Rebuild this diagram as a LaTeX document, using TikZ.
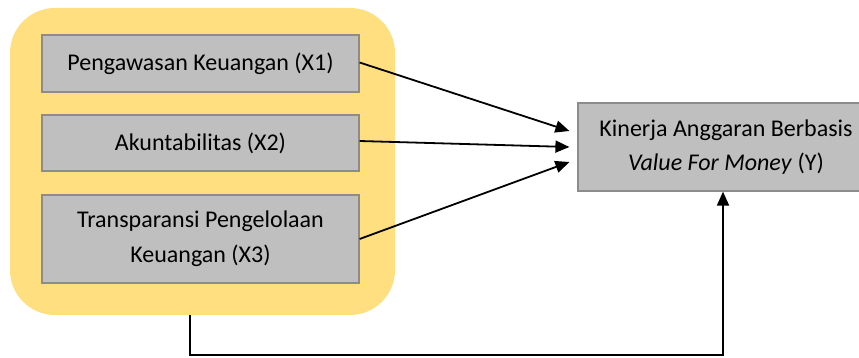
\documentclass[tikz,border=0pt]{standalone}
\usepackage{fontspec}
\setmainfont{Carlito}
\usetikzlibrary{arrows.meta}
\definecolor{yel}{HTML}{FFDF80}
\definecolor{boxgray}{HTML}{BFBFBF}
\definecolor{boxline}{HTML}{8C8C8C}
\tikzset{
  varbox/.style={draw=boxline, line width=1.2pt, fill=boxgray, minimum width=317pt, align=center, inner sep=0pt, font=\fontsize{24}{35}\selectfont},
  ybox/.style={draw=boxline, line width=1.2pt, fill=boxgray, minimum width=296pt, minimum height=88pt, align=center, inner sep=0pt, font=\fontsize{24}{34}\selectfont},
  group/.style={fill=yel, rounded corners=45pt, minimum width=385pt, minimum height=307pt, inner sep=0pt},
  conn/.style={black, line width=1.8pt, -{Triangle[length=14pt,width=12pt]}},
  plainconn/.style={black, line width=1.8pt}
}
\begin{document}
\begin{tikzpicture}[x=1pt,y=-1pt]
\useasboundingbox (0,0) rectangle (859,358);
\node[group] (grp) at (202.5,161.5) {};
\node[varbox, minimum height=57pt] (x1) at (200.5,63.5) {Pengawasan Keuangan (X1)};
\node[varbox, minimum height=56pt] (x2) at (200.5,143) {Akuntabilitas (X2)};
\node[varbox, minimum height=88pt] (x3) at (200.5,239) {Transparansi Pengelolaan\\Keuangan (X3)};
\node[ybox] (y) at (726,147) {Kinerja Anggaran Berbasis\\\textit{Value For Money} (Y)};
\draw[conn] ([yshift=1pt]x1.east) -- ([xshift=-8pt,yshift=16pt]y.west);
\draw[conn] ([yshift=2pt]x2.east) -- ([xshift=-8pt]y.west);
\draw[conn] (x3.east) -- ([xshift=-8pt,yshift=-15pt]y.west);
\coordinate (b0) at (190,315);
\coordinate (b1) at (190,355);
\draw[conn] (b0) -- (b1) -| ([xshift=-3pt]y.south);
\end{tikzpicture}
\end{document}
